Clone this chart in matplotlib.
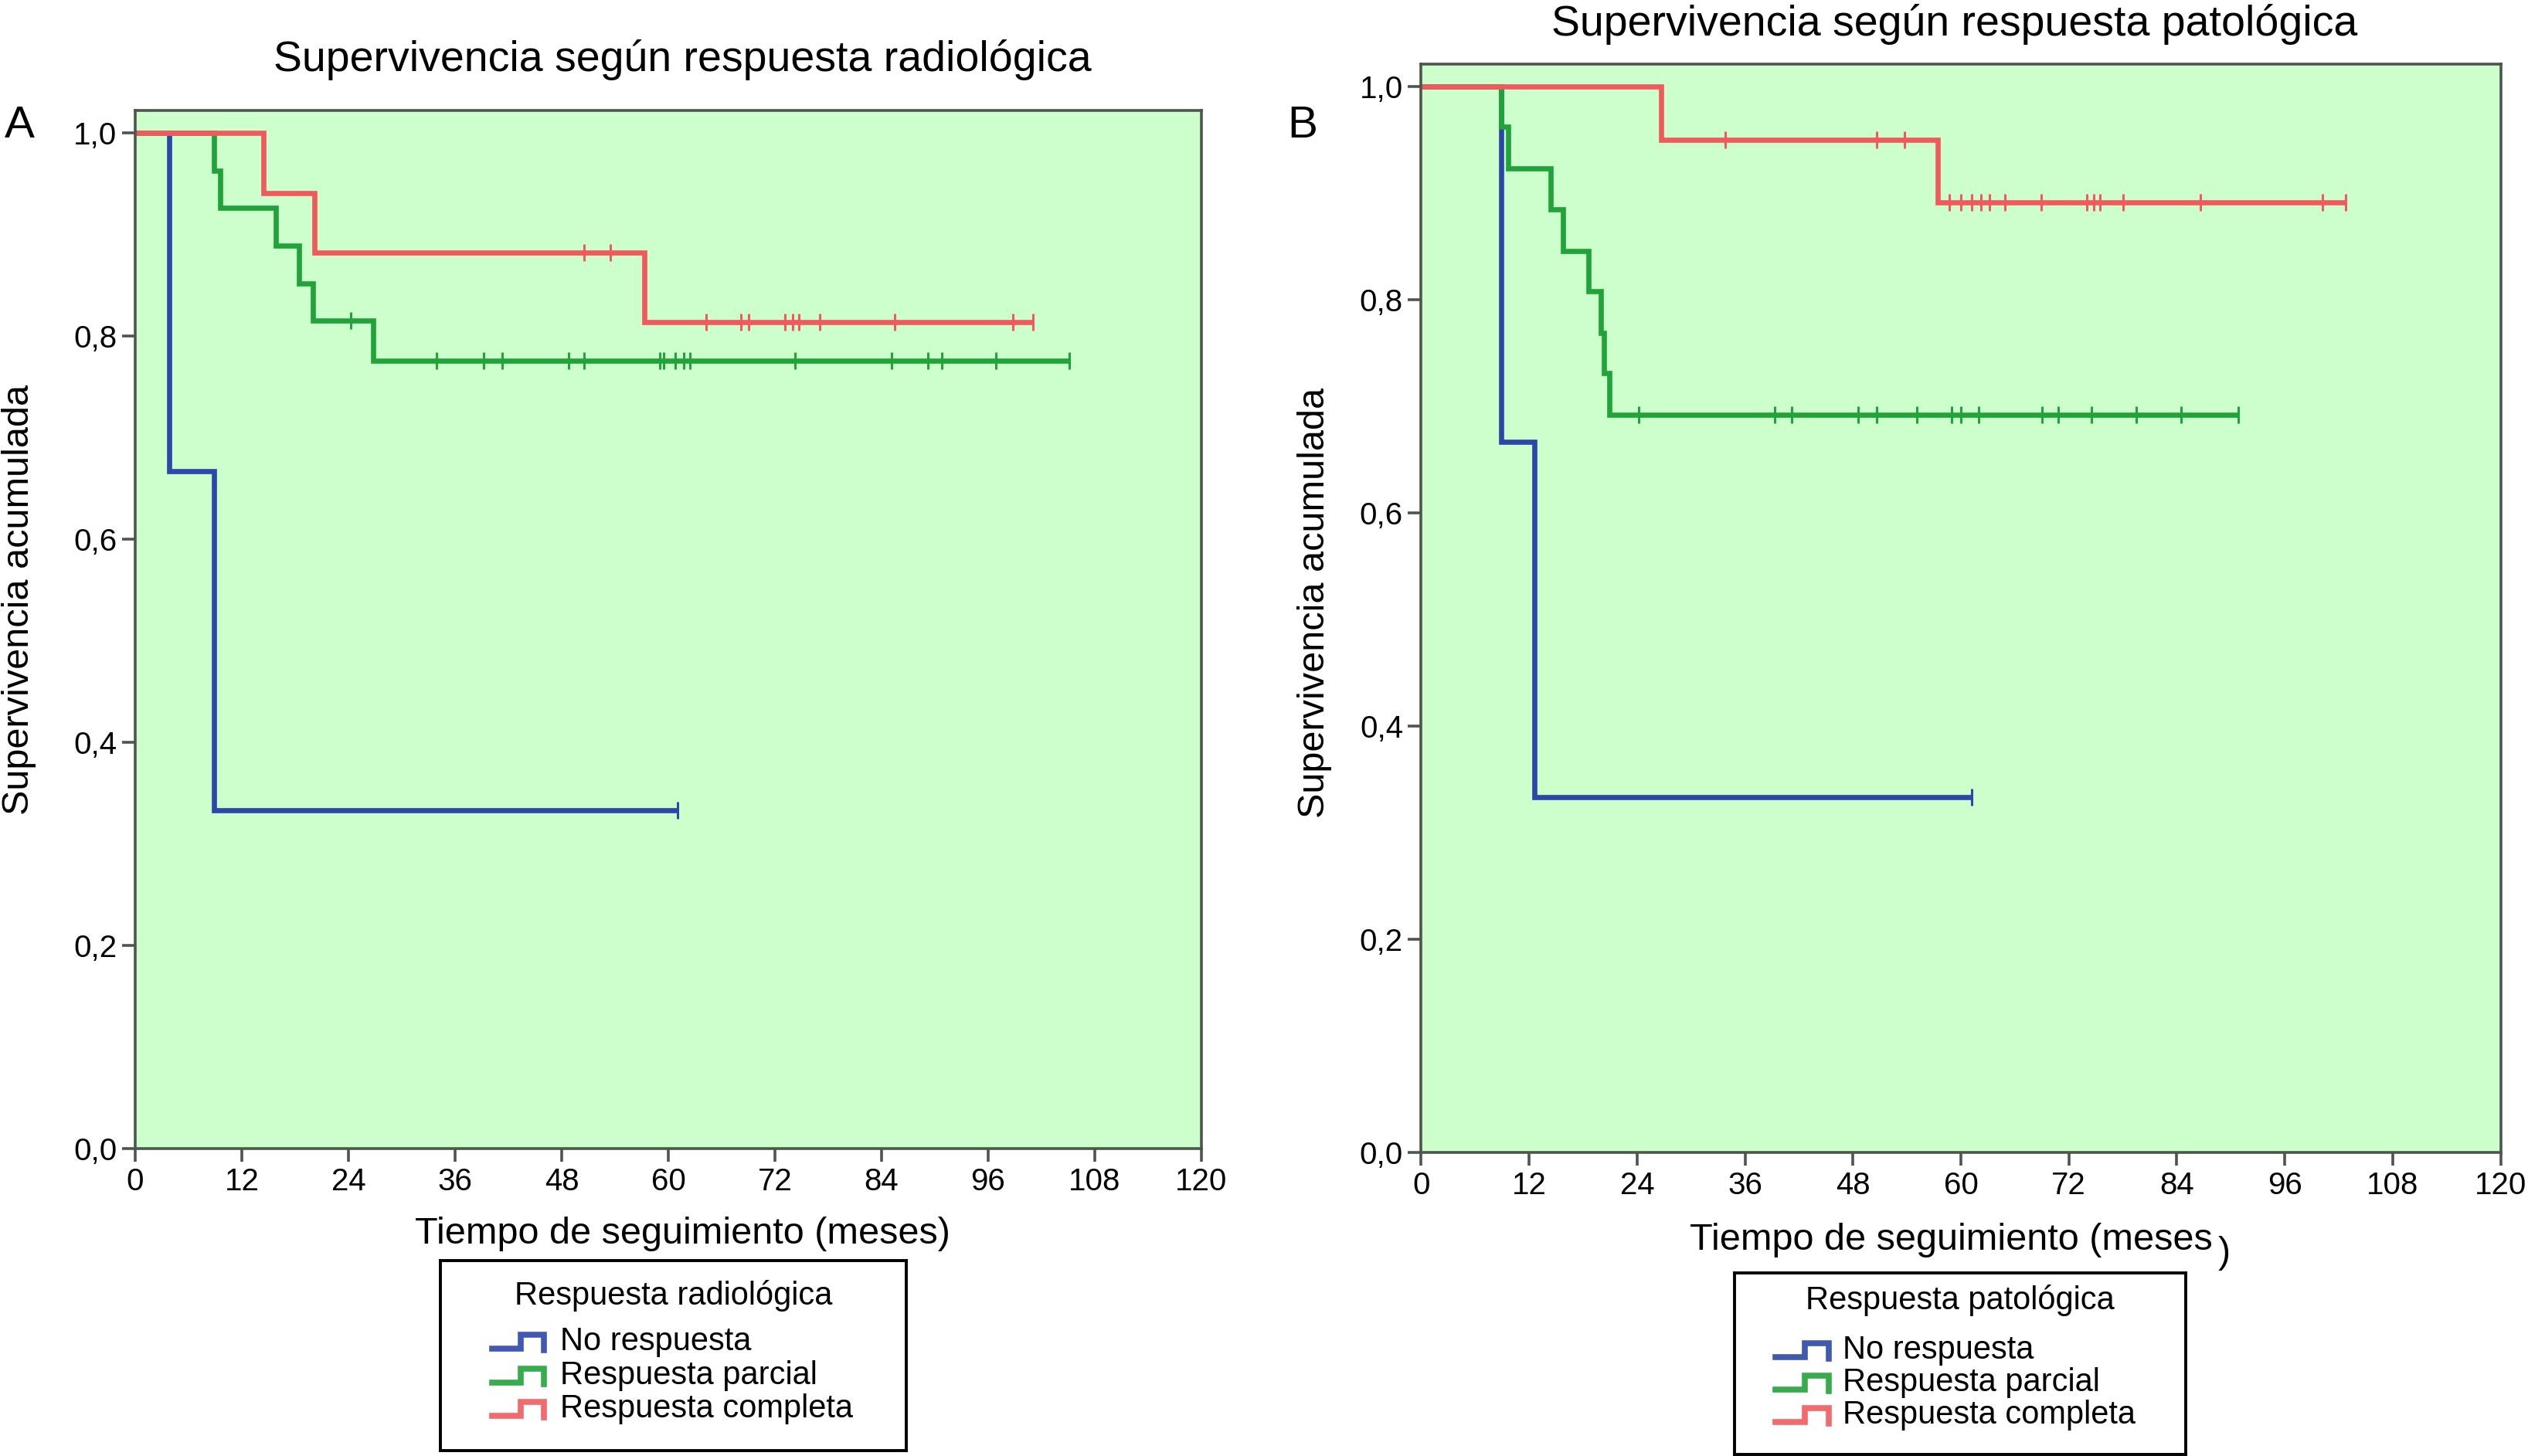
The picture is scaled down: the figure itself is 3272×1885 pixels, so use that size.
import matplotlib
matplotlib.use("Agg")
import matplotlib.pyplot as plt
import numpy as np
from matplotlib.lines import Line2D

plt.rcParams['font.family'] = ['Liberation Sans', 'DejaVu Sans']

W, H = 3272, 1885

# ---------------- data ----------------
x_ticks = [0, 12, 24, 36, 48, 60, 72, 84, 96, 108, 120]
y_ticks = [0.0, 0.2, 0.4, 0.6, 0.8, 1.0]
y_tick_labels = ['0,0', '0,2', '0,4', '0,6', '0,8', '1,0']

series_names = ['No respuesta', 'Respuesta parcial', 'Respuesta completa']
series_colors = ['#2B48A8', '#22A33A', '#F05A5D']

# Panel A - respuesta radiologica
rad_no_time = [0, 3.8, 8.9]
rad_no_surv = [1.0, 0.667, 0.333]
rad_no_end = 61.0
rad_no_cens = [61.0]

rad_par_time = [0, 8.9, 9.6, 15.8, 18.4, 20.0, 26.8]
rad_par_surv = [1.0, 0.963, 0.926, 0.889, 0.852, 0.815, 0.776]
rad_par_end = 105.1
rad_par_cens = [24.3, 33.9, 39.2, 41.3, 48.8, 50.5, 59.0, 59.5, 60.8, 61.7, 62.4,
                74.3, 85.1, 89.2, 90.8, 96.9, 105.1]

rad_com_time = [0, 14.4, 20.2, 57.3]
rad_com_surv = [1.0, 0.941, 0.882, 0.814]
rad_com_end = 101.0
rad_com_cens = [50.5, 53.5, 64.3, 68.2, 69.0, 73.1, 74.0, 74.7, 77.0, 85.5, 98.8, 101.0]

# Panel B - respuesta patologica
pat_no_time = [0, 8.9, 12.6]
pat_no_surv = [1.0, 0.667, 0.333]
pat_no_end = 61.2
pat_no_cens = [61.2]

pat_par_time = [0, 8.9, 9.7, 14.4, 15.8, 18.6, 20.0, 20.3, 20.9]
pat_par_surv = [1.0, 0.962, 0.923, 0.885, 0.846, 0.808, 0.769, 0.731, 0.692]
pat_par_end = 90.8
pat_par_cens = [24.2, 39.3, 41.2, 48.6, 50.6, 55.1, 59.0, 60.0, 62.0, 69.0, 70.8,
                74.5, 79.5, 84.5, 90.8]

pat_com_time = [0, 26.7, 57.4]
pat_com_surv = [1.0, 0.95, 0.891]
pat_com_end = 102.8
pat_com_cens = [33.8, 50.6, 53.7, 58.75, 60.0, 61.2, 62.2, 63.2, 64.9, 68.9, 74.0,
                74.8, 75.5, 78.0, 86.6, 100.2, 102.8]

panel_A = [(rad_no_time, rad_no_surv, rad_no_end, rad_no_cens),
           (rad_par_time, rad_par_surv, rad_par_end, rad_par_cens),
           (rad_com_time, rad_com_surv, rad_com_end, rad_com_cens)]
panel_B = [(pat_no_time, pat_no_surv, pat_no_end, pat_no_cens),
           (pat_par_time, pat_par_surv, pat_par_end, pat_par_cens),
           (pat_com_time, pat_com_surv, pat_com_end, pat_com_cens)]

# ---------------- figure ----------------
fig = plt.figure(figsize=(W / 100, H / 100), dpi=100)
fig.patch.set_facecolor('white')


def fx(x):
    return x / W


def fy(y):
    return 1 - y / H


def make_axes(left, right, bottom, top, ytop):
    ax = fig.add_axes([fx(left), fy(bottom), fx(right) - fx(left), fy(top) - fy(bottom)])
    ax.set_facecolor('#CCFFCC')
    ax.set_xlim(0, 120)
    ax.set_ylim(0, ytop)
    ax.set_xticks(x_ticks)
    ax.set_xticklabels([str(t) for t in x_ticks])
    ax.set_yticks(y_ticks)
    ax.set_yticklabels(y_tick_labels)
    for sp in ax.spines.values():
        sp.set_color('#4D564D')
        sp.set_linewidth(2.6)
    ax.tick_params(direction='out', length=12, width=2.6, color='#4D564D',
                   labelsize=29, pad=5, labelcolor='black')
    return ax


def draw_curves(ax, panel):
    for (t, s, end, cens), col in zip(panel, series_colors):
        tt = np.array(list(t) + [end])
        ss = np.array(list(s) + [s[-1]])
        ax.step(tt, ss, where='post', color=col, lw=4.8, solid_joinstyle='miter',
                solid_capstyle='butt')
        c = np.array(cens)
        idx = np.searchsorted(np.array(t), c, side='right') - 1
        cy = np.array(s)[idx]
        ax.plot(c, cy, linestyle='none', marker='|', markersize=16, mew=2.2, color=col)


axA = make_axes(175, 1555, 1487, 143, 1.022)
draw_curves(axA, panel_A)
axB = make_axes(1839.5, 3236.5, 1492, 83, 1.021)
draw_curves(axB, panel_B)

# titles and labels
fig.text(fx(883), fy(77), 'Supervivencia según respuesta radiológica', ha='center', va='center', fontsize=40)
fig.text(fx(2530), fy(31), 'Supervivencia según respuesta patológica', ha='center', va='center', fontsize=40)
fig.text(fx(25), fy(163), 'A', ha='center', va='center', fontsize=42)
fig.text(fx(1686), fy(163), 'B', ha='center', va='center', fontsize=42)
fig.text(fx(25), fy(776), 'Supervivencia acumulada', ha='center', va='center', rotation=90, fontsize=35)
fig.text(fx(1701), fy(780), 'Supervivencia acumulada', ha='center', va='center', rotation=90, fontsize=35)
fig.text(fx(883), fy(1597), 'Tiempo de seguimiento (meses)', ha='center', va='center', fontsize=35)
fig.text(fx(2525), fy(1605), 'Tiempo de seguimiento (meses', ha='center', va='center', fontsize=35)
fig.text(fx(2879), fy(1622), ')', ha='center', va='center', fontsize=35)


# legends
def legend_box(left, right, top, bottom, title, title_y, entry_ys, icon_x0, icon_x1, text_x):
    lax = fig.add_axes([fx(left), fy(bottom), fx(right) - fx(left), fy(top) - fy(bottom)])
    lax.set_facecolor('white')
    lax.set_xticks([])
    lax.set_yticks([])
    for sp in lax.spines.values():
        sp.set_color('black')
        sp.set_linewidth(2.8)
    fig.text(fx((left + right) / 2), fy(title_y), title, ha='center', va='center', fontsize=30)
    for name, col, yc in zip(series_names, series_colors, entry_ys):
        lo = yc + 9
        hi = yc - 9
        xm = icon_x0 + 0.55 * (icon_x1 - icon_x0)
        xs = [fx(icon_x0), fx(xm), fx(xm), fx(icon_x1), fx(icon_x1)]
        ys = [fy(lo), fy(lo), fy(hi), fy(hi), fy(lo + 2)]
        fig.add_artist(Line2D(xs, ys, color=col, lw=5.5, solid_joinstyle='miter',
                              transform=fig.transFigure, alpha=0.9))
        fig.text(fx(text_x), fy(yc), name, ha='left', va='center', fontsize=30)


legend_box(569.5, 1173, 1632, 1878, 'Respuesta radiológica', 1677,
           [1737, 1781, 1824], 637, 704, 725)
legend_box(2244.5, 2829, 1648, 1883, 'Respuesta patológica', 1683,
           [1748, 1790, 1832], 2298, 2367, 2385)

fig.savefig('out.png', dpi=100, facecolor='white')
